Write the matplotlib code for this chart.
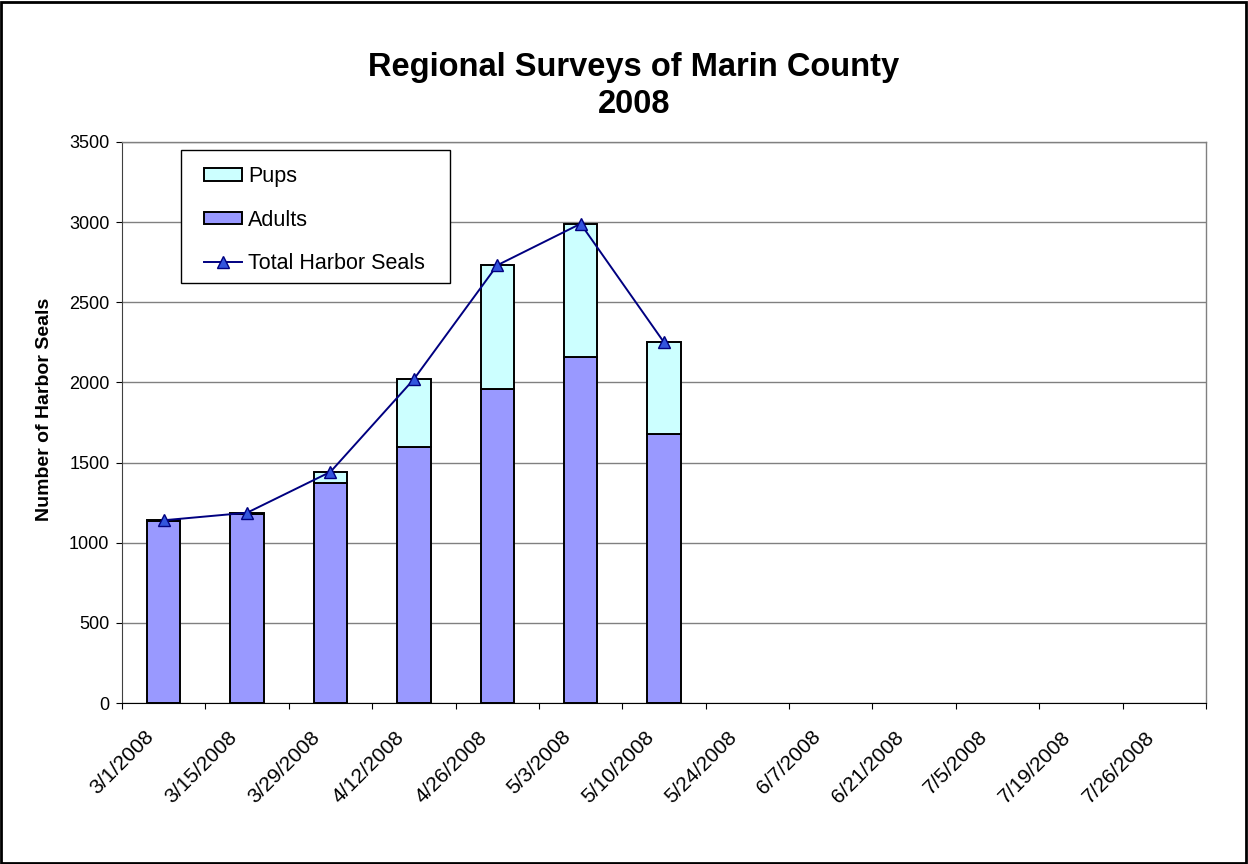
import matplotlib
matplotlib.use("Agg")
import matplotlib.pyplot as plt
from matplotlib.patches import Rectangle, Patch
from matplotlib.lines import Line2D
from matplotlib.transforms import ScaledTranslation

plt.rcParams['font.family'] = ['Liberation Sans', 'DejaVu Sans']

dates = ["3/1/2008", "3/15/2008", "3/29/2008", "4/12/2008", "4/26/2008", "5/3/2008",
         "5/10/2008", "5/24/2008", "6/7/2008", "6/21/2008", "7/5/2008", "7/19/2008", "7/26/2008"]
adults = [1135, 1180, 1372, 1595, 1961, 2160, 1680]
pups = [5, 7, 70, 425, 770, 830, 570]
totals = [1140, 1187, 1442, 2020, 2731, 2990, 2250]

W, H = 1248, 864
fig = plt.figure(figsize=(W / 100, H / 100), dpi=100)
ax = fig.add_axes([122 / W, 1 - 703 / H, (1206 - 122) / W, (703 - 142) / H])

x = list(range(len(adults)))
ax.bar(x, adults, width=0.4, color='#9999FF', edgecolor='black', linewidth=1.4, zorder=3)
ax.bar(x, pups, width=0.4, bottom=adults, color='#CCFFFF', edgecolor='black', linewidth=1.4, zorder=3)
ax.plot(x, totals, color='#000080', linewidth=1.4, marker='^', markersize=9,
        markerfacecolor='#3355DD', markeredgecolor='#000080', markeredgewidth=1, zorder=4)

ax.set_xlim(-0.5, len(dates) - 0.5)
ax.set_ylim(0, 3500)
ax.set_yticks(range(0, 3501, 500))
ax.set_xticks([i + 0.5 for i in range(-1, len(dates))])
ax.set_xticklabels([])
ax.tick_params(axis='x', length=4, direction='out', color='black')
ax.tick_params(axis='y', length=4, direction='out', labelsize=13, pad=5)

# rotated category labels
lab_tr = ax.get_xaxis_transform() + ScaledTranslation(-13 / 100, -31 / 100, fig.dpi_scale_trans)
for i, d in enumerate(dates):
    ax.text(i, 0, d, transform=lab_tr, rotation=45, rotation_mode='anchor',
            ha='right', va='center', fontsize=15)

ax.grid(axis='y', color='#808080', linewidth=1, zorder=0)
ax.set_axisbelow(True)
for s in ['top', 'right']:
    ax.spines[s].set_color('#808080')
    ax.spines[s].set_linewidth(1)
ax.spines['left'].set_color('#404040')
ax.spines['bottom'].set_color('black')

ax.set_ylabel('Number of Harbor Seals', fontsize=14, fontweight='bold')
ax.yaxis.set_label_coords((53 - 122) / 1084, 0.524)
fig.text(634 / W, 1 - 86 / H, 'Regional Surveys of Marin County\n2008', ha='center', va='center',
         fontsize=23.5, fontweight='bold', linespacing=1.25)

# legend
handles = [Patch(facecolor='#CCFFFF', edgecolor='black', linewidth=1.4, label='Pups'),
           Patch(facecolor='#9999FF', edgecolor='black', linewidth=1.4, label='Adults'),
           Line2D([0], [0], color='#000080', marker='^', markerfacecolor='#3355DD',
                  markeredgecolor='#000080', markersize=9, linewidth=1.4, label='Total Harbor Seals')]
leg = fig.legend(handles=handles, loc='upper left', bbox_to_anchor=(204 / W, 1 - 166 / H),
                 fontsize=15.5, frameon=False, borderpad=0, borderaxespad=0,
                 labelspacing=1.05, handlelength=1.75, handleheight=0.55, handletextpad=0.3)
fig.patches.append(Rectangle((181 / W, 1 - 283 / H), (450 - 181) / W, (283 - 150) / H,
                             transform=fig.transFigure, facecolor='white', edgecolor='black',
                             linewidth=1, zorder=4))
leg.set_zorder(6)

fig.patches.append(Rectangle((0.001, 0.001), 0.997, 0.997, transform=fig.transFigure,
                             fill=False, edgecolor='black', linewidth=2))

fig.savefig('out.png', dpi=100)
